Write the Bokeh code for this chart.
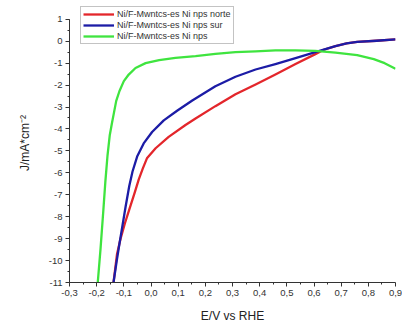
from bokeh.plotting import figure
from bokeh.models import (Legend, LegendItem, CustomJSTickFormatter, FixedTicker, Range1d,
                          AllLabels, SingleIntervalTicker)
from bokeh.embed import file_html
from bokeh.resources import INLINE

# Data (E/V vs RHE, J/mA*cm^-2)
norte_x = [-0.138, -0.125, -0.112, -0.096, -0.078, -0.060, -0.045, -0.030, -0.015, 0.017, 0.065,
           0.127, 0.164, 0.237, 0.311, 0.385, 0.458, 0.532, 0.605, 0.636, 0.679, 0.720, 0.759,
           0.830, 0.900]
norte_y = [-11.0, -9.7, -9.0, -8.3, -7.6, -6.9, -6.3, -5.8, -5.34, -4.88, -4.36,
           -3.82, -3.52, -2.96, -2.42, -1.97, -1.52, -1.04, -0.59, -0.39, -0.22, -0.10, -0.03,
           0.02, 0.08]

sur_x = [-0.138, -0.126, -0.117, -0.106, -0.094, -0.080, -0.068, -0.051, -0.027, 0.004, 0.047,
         0.096, 0.152, 0.237, 0.311, 0.385, 0.458, 0.532, 0.605, 0.679, 0.720, 0.759, 0.830, 0.900]
sur_y = [-11.0, -10.0, -9.3, -8.48, -7.58, -6.6, -5.94, -5.26, -4.66, -4.14, -3.61,
         -3.17, -2.70, -2.05, -1.62, -1.29, -1.04, -0.77, -0.50, -0.22, -0.10, -0.03, 0.02, 0.08]

nps_x = [-0.196, -0.186, -0.176, -0.168, -0.160, -0.152, -0.144, -0.137, -0.128, -0.116, -0.100,
         -0.082, -0.057, -0.020, 0.030, 0.090, 0.164, 0.237, 0.311, 0.385, 0.458, 0.532, 0.605,
         0.679, 0.759, 0.820, 0.860, 0.900]
nps_y = [-11.0, -9.5, -7.81, -6.4, -5.2, -4.3, -3.75, -3.3, -2.72, -2.27, -1.82,
         -1.52, -1.22, -1.0, -0.86, -0.76, -0.68, -0.58, -0.50, -0.46, -0.42, -0.42, -0.44,
         -0.52, -0.63, -0.82, -1.0, -1.26]

series_names = ["Ni/F-Mwntcs-es Ni nps norte", "Ni/F-Mwntcs-es Ni nps sur", "Ni/F-Mwntcs-es Ni nps"]
colors = ["#e3262b", "#1c1ca6", "#3fe43f"]

x_ticks = [-0.3, -0.2, -0.1, 0.0, 0.1, 0.2, 0.3, 0.4, 0.5, 0.6, 0.7, 0.8, 0.9]
y_min, y_max = -11, 1

FONT = "Liberation Sans"

# frame: y=1 at 19px, y=-11 at 286px -> 22.25 px per unit; frame top at 3px
y_top = y_max + 16 / 22.25

p = figure(width=402, height=325, output_backend="svg", toolbar_location=None,
           x_range=Range1d(-0.3, 0.9), y_range=Range1d(y_min, y_top),
           min_border_left=69, min_border_right=7, min_border_top=3, min_border_bottom=39)
p.title.visible = False
p.outline_line_color = None
p.grid.visible = False
p.background_fill_color = "white"
p.border_fill_color = "white"

renderers = []
for xs, ys, c in [(norte_x, norte_y, colors[0]), (sur_x, sur_y, colors[1]), (nps_x, nps_y, colors[2])]:
    r = p.line(xs, ys, line_color=c, line_width=2.3, line_join="round")
    renderers.append(r)

p.xaxis.ticker = FixedTicker(ticks=x_ticks, minor_ticks=[-0.25 + 0.1 * i for i in range(12)])
p.yaxis.ticker = SingleIntervalTicker(interval=1, num_minor_ticks=2)
p.yaxis.bounds = (y_min, y_max)
p.xaxis.formatter = CustomJSTickFormatter(code="return tick.toFixed(1).replace('.', ',').replace('-0,0','0,0');")
p.yaxis.formatter = CustomJSTickFormatter(code="return Math.round(tick).toString();")

for ax in [p.xaxis[0], p.yaxis[0]]:
    ax.major_label_policy = AllLabels()
    ax.axis_line_color = "#333333"
    ax.major_tick_line_color = "#333333"
    ax.minor_tick_line_color = "#333333"
    ax.major_tick_out = 4
    ax.major_tick_in = 0
    ax.minor_tick_out = 2
    ax.minor_tick_in = 0
    ax.major_label_text_font = FONT
    ax.major_label_text_font_size = "9.5px"
    ax.major_label_text_color = "#333333"
    ax.axis_label_text_font = FONT
    ax.axis_label_text_font_style = "normal"
    ax.axis_label_text_color = "#222222"
    ax.axis_label_text_font_size = "12px"

p.xaxis.axis_label = "E/V vs RHE"
p.yaxis.axis_label = "J/mA*cm\u207b\u00b2"
p.xaxis.major_label_standoff = 3
p.yaxis.major_label_standoff = 3
p.xaxis.axis_label_standoff = 10
p.yaxis.axis_label_standoff = 14

legend = Legend(items=[LegendItem(label=n, renderers=[r]) for n, r in zip(series_names, renderers)],
                location=(11, 238))
legend.label_text_font = FONT
legend.label_text_font_size = "9px"
legend.label_text_line_height = 1.0
legend.label_text_color = "#333333"
legend.label_height = 8
legend.glyph_height = 8
legend.glyph_width = 31
legend.spacing = 1
legend.padding = 2
legend.margin = 0
legend.label_standoff = 3
legend.border_line_color = "#888888"
legend.border_line_width = 1
legend.background_fill_alpha = 0
p.add_layout(legend, "center")

open("out.html", "w").write(file_html(p, INLINE))
